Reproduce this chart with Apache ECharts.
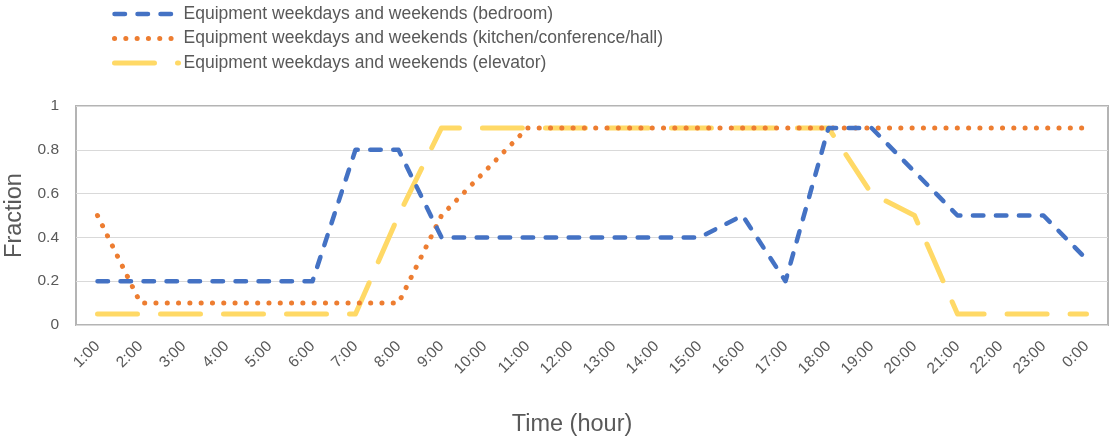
<!DOCTYPE html>
<html>
<head>
<meta charset="utf-8">
<script src="https://cdn.jsdelivr.net/npm/echarts@6/dist/echarts.min.js"></script>
<style>
  html, body { margin: 0; padding: 0; background: #fff; }
  #chart { width: 1110px; height: 436px; }
</style>
</head>
<body>
<div id="chart"></div>
<script>
// Hourly equipment usage fractions
const hours = ['1:00','2:00','3:00','4:00','5:00','6:00','7:00','8:00','9:00','10:00','11:00','12:00',
               '13:00','14:00','15:00','16:00','17:00','18:00','19:00','20:00','21:00','22:00','23:00','0:00'];
const bedroom  = [0.2,0.2,0.2,0.2,0.2,0.2,0.8,0.8,0.4,0.4,0.4,0.4,0.4,0.4,0.4,0.5,0.2,0.9,0.9,0.7,0.5,0.5,0.5,0.3];
const kitchen  = [0.5,0.1,0.1,0.1,0.1,0.1,0.1,0.1,0.5,0.7,0.9,0.9,0.9,0.9,0.9,0.9,0.9,0.9,0.9,0.9,0.9,0.9,0.9,0.9];
const elevator = [0.05,0.05,0.05,0.05,0.05,0.05,0.05,0.5,0.9,0.9,0.9,0.9,0.9,0.9,0.9,0.9,0.9,0.9,0.6,0.5,0.05,0.05,0.05,0.05];
const seriesNames = [
  'Equipment weekdays and weekends (bedroom)',
  'Equipment weekdays and weekends (kitchen/conference/hall)',
  'Equipment weekdays and weekends (elevator)'
];

const textColor = '#595959';
const font = 'Liberation Sans, Arial, sans-serif';

const chart = echarts.init(document.getElementById('chart'), null, { renderer: 'canvas' });
chart.setOption({
  animation: false,
  backgroundColor: '#fff',
  textStyle: { fontFamily: font },
  legend: {
    orient: 'vertical',
    left: 107,
    top: 0,
    itemWidth: 64,
    itemHeight: 14,
    itemGap: 6.5,
    textStyle: { color: textColor, fontSize: 17.5, fontFamily: font },
    itemStyle: { opacity: 0 },
    lineStyle: { width: 'inherit' },
    data: seriesNames
  },
  grid: {
    left: 76, right: 2, top: 106, bottom: 111,
    outerBoundsMode: 'none',
    containLabel: false,
    show: true, borderColor: '#b4b4b4', borderWidth: 2
  },
  xAxis: {
    type: 'category',
    data: hours,
    boundaryGap: true,
    name: 'Time (hour)',
    nameLocation: 'middle',
    nameGap: 88,
    nameTextStyle: { color: textColor, fontSize: 23.5, fontFamily: font, padding: [0, 40, 0, 0] },
    axisLine: { show: false },
    axisTick: { show: false },
    axisLabel: { color: textColor, fontSize: 15.5, rotate: 45, margin: 19, interval: 0, fontFamily: font }
  },
  yAxis: {
    type: 'value',
    min: 0, max: 1, interval: 0.2,
    name: 'Fraction',
    nameLocation: 'middle',
    nameGap: 48,
    nameTextStyle: { color: textColor, fontSize: 23.5, fontFamily: font },
    axisLine: { show: false },
    axisTick: { show: false },
    axisLabel: { color: textColor, fontSize: 15.5, margin: 17, fontFamily: font },
    splitLine: { lineStyle: { color: '#d9d9d9', width: 1 } }
  },
  series: [
    {
      name: seriesNames[0], type: 'line', data: bedroom, symbol: 'none',
      itemStyle: { color: '#4472c4' },
      lineStyle: { color: '#4472c4', width: 4.5, type: [10.5, 12.5], cap: 'round', join: 'round' },
      z: 3
    },
    {
      name: seriesNames[1], type: 'line', data: kitchen, symbol: 'none',
      itemStyle: { color: '#ed7d31' },
      lineStyle: { color: '#ed7d31', width: 5, type: [0.1, 11.2], cap: 'round', join: 'round' },
      z: 2
    },
    {
      name: seriesNames[2], type: 'line', data: elevator, symbol: 'none',
      itemStyle: { color: '#ffd966' },
      lineStyle: { color: '#ffd966', width: 5, type: [40, 23], cap: 'round', join: 'round' },
      z: 1
    }
  ]
});
</script>
</body>
</html>
